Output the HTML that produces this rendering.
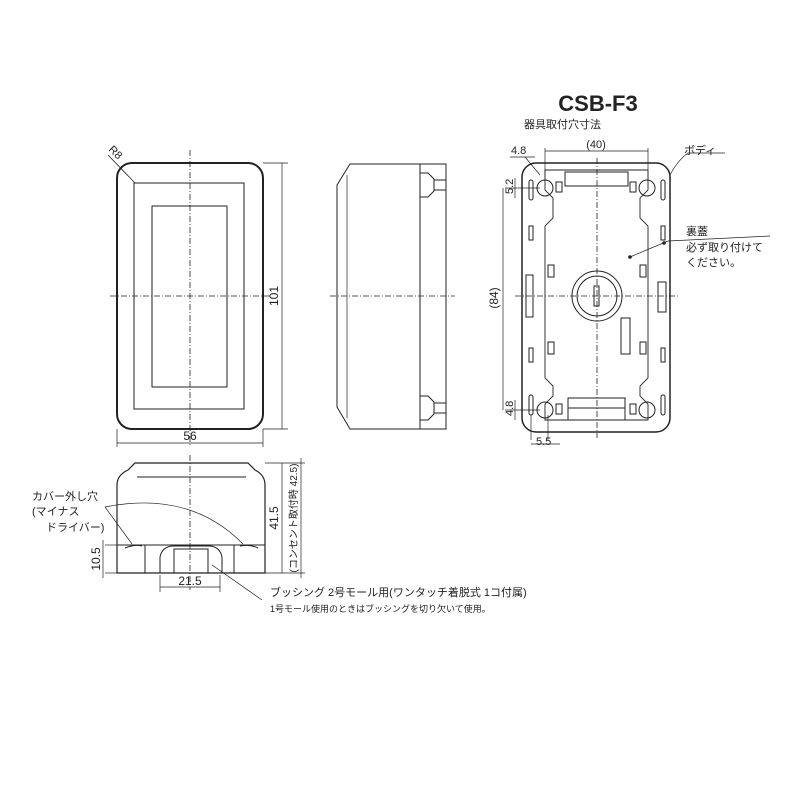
<!DOCTYPE html>
<html><head><meta charset="utf-8"><style>
body{margin:0;background:#fff}
svg{display:block}
text{font-family:"Liberation Sans","Noto Sans CJK JP",sans-serif;fill:#222}
</style></head><body>
<svg width="800" height="800" viewBox="0 0 800 800" xmlns="http://www.w3.org/2000/svg">
<g fill="none" stroke="#222" stroke-width="1">
<!-- FRONT VIEW -->
<rect x="117" y="163" width="146" height="266" rx="15" stroke-width="2"/>
<rect x="134" y="183" width="110" height="226"/>
<rect x="152" y="206" width="75" height="181"/>
<line x1="190" y1="150" x2="190" y2="445" stroke-dasharray="6,2,1,2" stroke-width="0.8"/>
<line x1="110" y1="296" x2="270" y2="296" stroke-dasharray="6,2,1,2" stroke-width="0.8"/>
<line x1="108" y1="155" x2="135" y2="183" stroke-width="0.8"/>
<line x1="263" y1="163" x2="288" y2="163" stroke-width="0.7"/>
<line x1="263" y1="429" x2="288" y2="429" stroke-width="0.7"/>
<line x1="282" y1="163" x2="282" y2="429" stroke-width="0.7"/>
<line x1="117" y1="429" x2="117" y2="447" stroke-width="0.7"/>
<line x1="263" y1="429" x2="263" y2="447" stroke-width="0.7"/>
<line x1="117" y1="443" x2="263" y2="443" stroke-width="0.7"/>
<!-- SIDE VIEW -->
<path d="M350 164 L420 164 L420 429 L350 429 L337 407 L337 185 Z"/>
<line x1="347" y1="175" x2="347" y2="418" stroke-width="0.7"/>
<rect x="420" y="164" width="26" height="265"/>
<path d="M420 173 h8 l6 6 v12 l-6 6 h-8" /><line x1="434" y1="180" x2="446" y2="180"/><line x1="434" y1="190" x2="446" y2="190"/>
<path d="M420 396 h8 l6 6 v12 l-6 6 h-8" /><line x1="434" y1="403" x2="446" y2="403"/><line x1="434" y1="413" x2="446" y2="413"/>
<line x1="330" y1="296" x2="455" y2="296" stroke-dasharray="6,2,1,2" stroke-width="0.8"/>
<!-- BACK VIEW -->
<rect x="522" y="163" width="148" height="269" rx="14" stroke-width="1.5"/>
<path d="M545 170 h103 v20 l-8 8 v20 l8 8 v152 l-8 8 v10 l8 8 v16 h-103 v-16 l8 -8 v-10 l-8 -8 v-152 l8 -8 v-20 l-8 -8 z" stroke-width="0.9"/>
<path d="M565 172 h63 v14 h-63 z"/>
<rect x="568" y="398" width="57" height="22"/>
<line x1="568" y1="408" x2="625" y2="408"/>
<circle cx="545" cy="188" r="8"/><circle cx="647" cy="188" r="8"/>
<circle cx="545" cy="410" r="8"/><circle cx="647" cy="410" r="8"/>
<rect x="556" y="182" width="6" height="10"/><rect x="630" y="182" width="6" height="10"/>
<rect x="556" y="404" width="6" height="10"/><rect x="630" y="404" width="6" height="10"/>
<circle cx="597" cy="296" r="25"/><circle cx="597" cy="296" r="20"/>
<rect x="594" y="286" width="5" height="20"/>
<rect x="529" y="180" width="4" height="20" rx="2"/><rect x="661" y="180" width="4" height="20" rx="2"/>
<rect x="529" y="395" width="4" height="20" rx="2"/><rect x="661" y="395" width="4" height="20" rx="2"/>
<rect x="529" y="226" width="4" height="14"/><rect x="661" y="226" width="4" height="14"/>
<rect x="529" y="348" width="4" height="14"/><rect x="661" y="348" width="4" height="14"/>
<rect x="526" y="275" width="7" height="42"/>
<rect x="658" y="282" width="8" height="30"/>
<rect x="621" y="318" width="9" height="36"/>
<rect x="548" y="265" width="6" height="12"/><rect x="640" y="265" width="6" height="12"/>
<rect x="548" y="342" width="6" height="12"/><rect x="640" y="342" width="6" height="12"/>
<line x1="597" y1="158" x2="597" y2="438" stroke-dasharray="6,2,1,2" stroke-width="0.8"/>
<line x1="515" y1="296" x2="680" y2="296" stroke-dasharray="6,2,1,2" stroke-width="0.8"/>
<line x1="545" y1="148" x2="545" y2="180" stroke-width="0.7"/><line x1="648" y1="148" x2="648" y2="180" stroke-width="0.7"/>
<line x1="545" y1="151" x2="648" y2="151" stroke-width="0.7"/>
<line x1="510" y1="157" x2="535" y2="157" stroke-width="0.7"/><line x1="525" y1="157" x2="540" y2="175" stroke-width="0.7"/>
<line x1="505" y1="188" x2="540" y2="188" stroke-width="0.7"/><line x1="505" y1="410" x2="540" y2="410" stroke-width="0.7"/>
<line x1="503" y1="188" x2="503" y2="410" stroke-width="0.7"/>
<line x1="515" y1="178" x2="515" y2="198" stroke-width="0.7"/><line x1="515" y1="400" x2="515" y2="420" stroke-width="0.7"/>
<line x1="531" y1="415" x2="531" y2="440" stroke-width="0.7"/><line x1="548" y1="415" x2="548" y2="440" stroke-width="0.7"/>
<line x1="531" y1="444" x2="560" y2="444" stroke-width="0.7"/>
<path d="M670 175 Q678 160 688 153 H725" stroke-width="0.7"/>
<line x1="630" y1="257" x2="668" y2="241" stroke-width="0.7"/><line x1="668" y1="241" x2="770" y2="236" stroke-width="0.7"/>
<circle cx="630" cy="257" r="1.3" fill="#222"/><circle cx="664" cy="243" r="1.3" fill="#222"/>
<!-- BOTTOM VIEW -->
<path d="M117 573 V485 Q117 475 128 470 L135 463 H248 L255 470 Q265 475 265 485 V573 Z" stroke-width="1.2"/>
<line x1="137" y1="477" x2="246" y2="477"/>
<line x1="117" y1="545" x2="265" y2="545"/>
<line x1="145" y1="545" x2="145" y2="573"/><line x1="234" y1="545" x2="234" y2="573"/>
<path d="M160 573 V557 Q162 547 172 546 H210 Q220 547 222 557 V573"/>
<rect x="174" y="549" width="34" height="24"/>
<path d="M125 548 Q135 544 142 546"/><path d="M240 546 Q250 544 258 548"/>
<line x1="190" y1="455" x2="190" y2="590" stroke-dasharray="6,2,1,2" stroke-width="0.8"/>
<line x1="105" y1="545" x2="117" y2="545" stroke-width="0.7"/><line x1="105" y1="573" x2="117" y2="573" stroke-width="0.7"/>
<line x1="103" y1="540" x2="103" y2="578" stroke-width="0.7"/>
<line x1="160" y1="575" x2="160" y2="592" stroke-width="0.7"/><line x1="220" y1="575" x2="220" y2="592" stroke-width="0.7"/>
<line x1="160" y1="587" x2="220" y2="587" stroke-width="0.7"/>
<line x1="265" y1="463" x2="305" y2="463" stroke-width="0.7"/><line x1="265" y1="573" x2="305" y2="573" stroke-width="0.7"/>
<line x1="282" y1="463" x2="282" y2="573" stroke-width="0.7"/><line x1="301" y1="458" x2="301" y2="578" stroke-width="0.7"/>
<path d="M105 507 L132 544" stroke-width="0.7"/><path d="M105 507 Q190 490 243 544" stroke-width="0.7"/>
<line x1="212" y1="565" x2="262" y2="600" stroke-width="0.7"/>
</g>
<text x="598" y="111" font-size="22" font-weight="bold" text-anchor="middle">CSB-F3</text>
<text x="524" y="128" font-size="11">器具取付穴寸法</text>
<text x="596" y="148" font-size="11" text-anchor="middle">(40)</text>
<text x="511" y="154" font-size="11">4.8</text>
<text x="684" y="154" font-size="11">ボディ</text>
<text x="686" y="235" font-size="11">裏蓋</text>
<text x="686" y="251" font-size="11">必ず取り付けて</text>
<text x="686" y="266" font-size="11">ください。</text>
<text x="536" y="445" font-size="11">5.5</text>
<text font-size="11" transform="translate(513,194) rotate(-90)">5.2</text>
<text font-size="11" transform="translate(513,416) rotate(-90)">4.8</text>
<text font-size="12" transform="translate(498,298) rotate(-90)" text-anchor="middle">(84)</text>
<text font-size="11" transform="translate(108,150) rotate(45)">R8</text>
<text x="190" y="440" font-size="12" text-anchor="middle">56</text>
<text font-size="12" transform="translate(278,296) rotate(-90)" text-anchor="middle">101</text>
<text x="190" y="585" font-size="12" text-anchor="middle">21.5</text>
<text font-size="12" transform="translate(100,559) rotate(-90)" text-anchor="middle">10.5</text>
<text font-size="12" transform="translate(278,518) rotate(-90)" text-anchor="middle">41.5</text>
<text font-size="10" transform="translate(297,518) rotate(-90)" text-anchor="middle">(コンセント取付時 42.5)</text>
<text x="32" y="500" font-size="11">カバー外し穴</text>
<text x="32" y="515" font-size="11">(マイナス</text>
<text x="46" y="531" font-size="11">ドライバー)</text>
<text x="270" y="596" font-size="11">ブッシング 2号モール用(ワンタッチ着脱式 1コ付属)</text>
<text x="270" y="612" font-size="9">1号モール使用のときはブッシングを切り欠いて使用。</text>
</svg>
</body></html>
